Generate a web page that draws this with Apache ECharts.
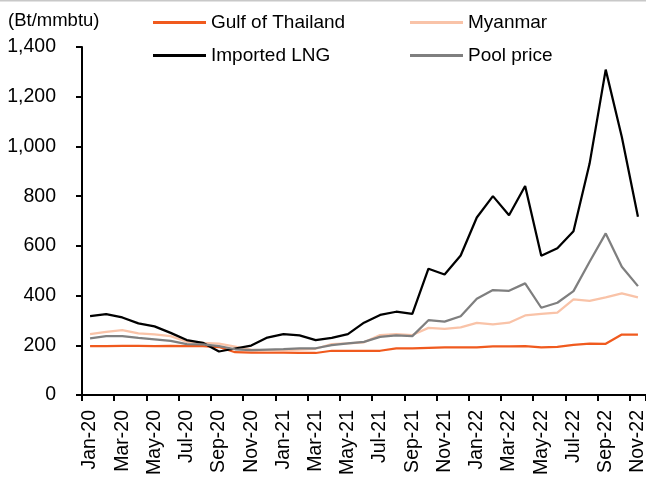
<!DOCTYPE html>
<html>
<head>
<meta charset="utf-8">
<script src="https://cdn.jsdelivr.net/npm/echarts@6/dist/echarts.min.js"></script>
<style>
  html, body { margin: 0; padding: 0; background: #fff; }
  #chart { width: 646px; height: 480px; }
</style>
</head>
<body>
<div id="chart"></div>
<script>
// months Jan-20 .. Nov-22
const months = [
  'Jan-20', 'Feb-20', 'Mar-20', 'Apr-20', 'May-20', 'Jun-20', 'Jul-20', 'Aug-20', 'Sep-20', 'Oct-20', 'Nov-20', 'Dec-20',
  'Jan-21', 'Feb-21', 'Mar-21', 'Apr-21', 'May-21', 'Jun-21', 'Jul-21', 'Aug-21', 'Sep-21', 'Oct-21', 'Nov-21', 'Dec-21',
  'Jan-22', 'Feb-22', 'Mar-22', 'Apr-22', 'May-22', 'Jun-22', 'Jul-22', 'Aug-22', 'Sep-22', 'Oct-22', 'Nov-22'
]

const gulfOfThailand = [
  197, 197, 198, 198, 197, 198, 197, 197, 193, 172, 170, 170,
  170, 169, 169, 178, 178, 178, 178, 188, 188, 190, 192, 192,
  192, 196, 196, 197, 192, 194, 202, 207, 206, 243, 243
]
const myanmar = [
  245, 254, 261, 248, 244, 237, 214, 210, 207, 195, 183, 179,
  181, 183, 186, 205, 208, 212, 241, 245, 241, 270, 266, 272,
  290, 284, 291, 320, 326, 331, 385, 379, 393, 409, 393
]
const importedLng = [
  317, 325, 312, 288, 276, 250, 221, 210, 175, 187, 199, 231,
  245, 240, 221, 230, 245, 291, 322, 335, 326, 508, 485, 561,
  714, 800, 723, 841, 560, 590, 659, 931, 1309, 1038, 717
]
const poolPrice = [
  228, 237, 237, 230, 224, 218, 205, 204, 197, 184, 181, 183,
  185, 188, 188, 201, 208, 214, 234, 240, 237, 301, 295, 317,
  387, 422, 419, 449, 351, 371, 418, 536, 650, 516, 438
]

const seriesNames = ['Gulf of Thailand', 'Myanmar', 'Imported LNG', 'Pool price']
const seriesColors = ['#f05a1e', '#f9c3a8', '#000000', '#7f7f7f']
const seriesData = [gulfOfThailand, myanmar, importedLng, poolPrice]

const FONT = 'Liberation Sans, Arial, sans-serif'
const FS = 19.5

const chart = echarts.init(document.getElementById('chart'), null, { renderer: 'canvas' })

// one legend per item so the 2x2 layout can be placed exactly
const legendPos = [
  { left: 153, top: 13 },
  { left: 410, top: 13 },
  { left: 153, top: 46 },
  { left: 410, top: 46 },
]

const option = {
  backgroundColor: '#ffffff',
  animation: false,
  title: {
    text: '(Bt/mmbtu)',
    left: 3,
    top: 6,
    textStyle: { fontFamily: FONT, fontSize: 18.5, fontWeight: 'normal', color: '#000' },
  },
  graphic: [
    { type: 'rect', left: 0, top: 0, shape: { width: 646, height: 1.5 }, style: { fill: '#c8c8c8' }, silent: true },
  ],
  legend: seriesNames.map((name, i) => ({
    data: [name],
    left: legendPos[i].left,
    top: legendPos[i].top,
    icon: 'rect',
    itemWidth: 53,
    itemHeight: 3,
    itemGap: 0,
    padding: 0,
    textStyle: { fontFamily: FONT, fontSize: 19, color: '#000' },
  })),
  grid: {
    left: 82,
    right: 0,
    top: 47,
    bottom: 85,
    containLabel: false,
    outerBoundsMode: 'none',
  },
  xAxis: {
    type: 'category',
    data: months,
    boundaryGap: true,
    axisLine: { lineStyle: { color: '#000', width: 2 } },
    axisTick: { show: true, interval: 1, length: 6, alignWithLabel: false, lineStyle: { color: '#000', width: 2 } },
    axisLabel: {
      interval: 1,
      rotate: 90,
      margin: 15,
      color: '#000',
      fontFamily: FONT,
      fontSize: FS,
    },
    splitLine: { show: false },
  },
  yAxis: {
    type: 'value',
    min: 0,
    max: 1400,
    interval: 200,
    axisLine: { show: true, lineStyle: { color: '#000', width: 2 } },
    axisTick: { show: true, length: 6, lineStyle: { color: '#000', width: 2 } },
    axisLabel: {
      margin: 26,
      color: '#000',
      fontFamily: FONT,
      fontSize: FS,
      formatter: (v) => v.toLocaleString('en-US'),
    },
    splitLine: { show: false },
  },
  series: seriesNames.map((name, i) => ({
    name,
    type: 'line',
    data: seriesData[i],
    showSymbol: false,
    symbol: 'none',
    color: seriesColors[i],
    lineStyle: { color: seriesColors[i], width: 2.25 },
  })),
}

chart.setOption(option)
</script>
</body>
</html>
